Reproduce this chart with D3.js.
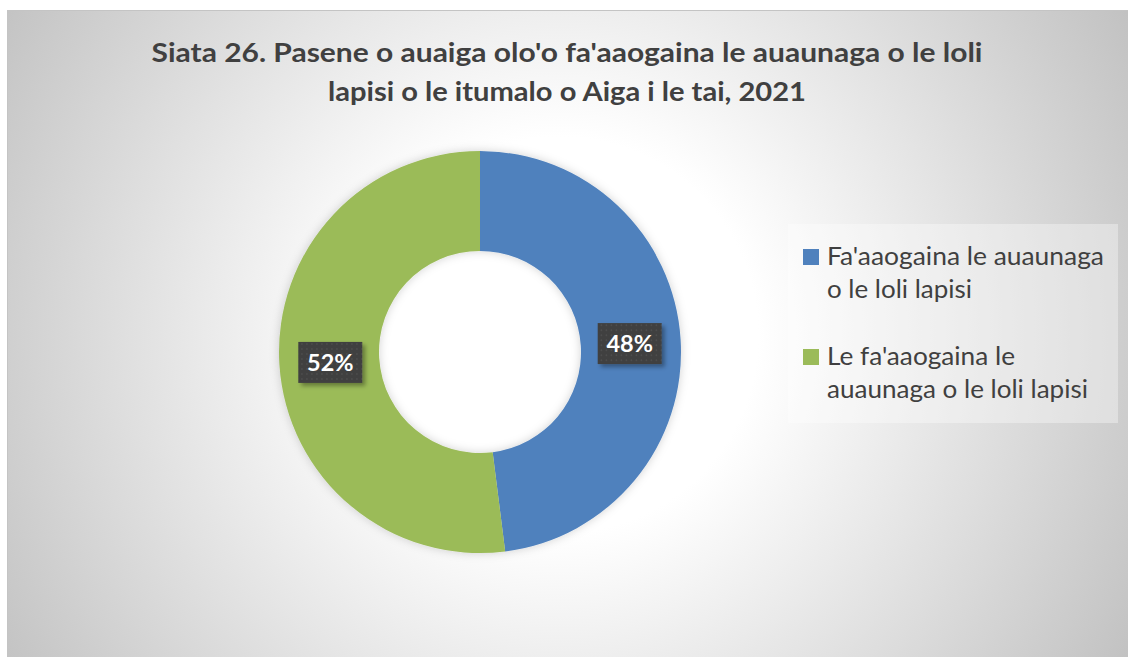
<!DOCTYPE html>
<html>
<head>
<meta charset="utf-8">
<script src="https://cdn.jsdelivr.net/npm/d3@7"></script>
<style>
  html, body { margin: 0; padding: 0; background: #ffffff; }
  svg { display: block; }
</style>
</head>
<body>
<svg id="chart" width="1128" height="657"></svg>
<script>
// ---- data ----
const categories = ["Fa'aaogaina le auaunaga o le loli lapisi", "Le fa'aaogaina le auaunaga o le loli lapisi"];
const values = [48, 52];
const colors = ["#4f81bd", "#9bbb59"];
const legendLines = [["Fa'aaogaina le auaunaga", "o le loli lapisi"], ["Le fa'aaogaina le", "auaunaga o le loli lapisi"]];
const titleLines = ["Siata 26. Pasene o auaiga olo'o fa'aaogaina le auaunaga o le loli", "lapisi o le itumalo o Aiga i le tai, 2021"];

const W = 1128, H = 657;
const svg = d3.select("#chart");
const defs = svg.append("defs");

// background gradient
const rg = defs.append("radialGradient").attr("id", "bg")
  .attr("gradientUnits", "userSpaceOnUse")
  .attr("cx", 560).attr("cy", 335).attr("r", 660);
rg.append("stop").attr("offset", "0").attr("stop-color", "#ffffff");
rg.append("stop").attr("offset", "0.3").attr("stop-color", "#ffffff");
rg.append("stop").attr("offset", "1").attr("stop-color", "#c1c1c1");

// label dot pattern
const pat = defs.append("pattern").attr("id", "dots").attr("patternUnits", "userSpaceOnUse")
  .attr("width", 5).attr("height", 5);
pat.append("rect").attr("width", 5).attr("height", 5).attr("fill", "#404040");
pat.append("rect").attr("x", 1).attr("y", 1).attr("width", 1.2).attr("height", 1.2).attr("fill", "#595959");

// shadows
const sh = defs.append("filter").attr("id", "lblshadow").attr("x", "-30%").attr("y", "-30%").attr("width", "160%").attr("height", "160%");
sh.append("feDropShadow").attr("dx", 3).attr("dy", 3).attr("stdDeviation", 2).attr("flood-color", "#000").attr("flood-opacity", 0.35);
const dsh = defs.append("filter").attr("id", "donutshadow").attr("x", "-20%").attr("y", "-20%").attr("width", "140%").attr("height", "140%");
dsh.append("feDropShadow").attr("dx", 0).attr("dy", 0).attr("stdDeviation", 5).attr("flood-color", "#000").attr("flood-opacity", 0.18);

// chart area
svg.append("rect").attr("x", 7.5).attr("y", 10.5).attr("width", W + 10).attr("height", H + 10)
  .attr("fill", "url(#bg)").attr("stroke", "#c4c4c4").attr("stroke-width", 1);

// title
const titleFont = "Lato, 'Open Sans', sans-serif";
const titleY = [62, 101];
const titleW = [831, 478];
svg.append("g").selectAll("text").data(titleLines).join("text")
  .attr("x", 567).attr("y", (d, i) => titleY[i])
  .attr("text-anchor", "middle")
  .attr("font-family", titleFont).attr("font-weight", "bold").attr("font-size", 27.5)
  .attr("fill", "#404040")
  .attr("textLength", (d, i) => titleW[i]).attr("lengthAdjust", "spacingAndGlyphs")
  .text(d => d);

// donut
const cx = 480, cy = 352;
const pie = d3.pie().sort(null).value(d => d).startAngle(0).endAngle(2 * Math.PI);
const arcs = pie(values);
const arc = d3.arc().innerRadius(101).outerRadius(201);
const labelArc = d3.arc().innerRadius(150).outerRadius(150);
const g = svg.append("g").attr("transform", `translate(${cx},${cy})`);
g.append("g").attr("filter", "url(#donutshadow)")
  .selectAll("path").data(arcs).join("path")
  .attr("d", arc).attr("fill", (d, i) => colors[i]);

// data labels
const lbl = g.selectAll("g.lbl").data(arcs).join("g").attr("class", "lbl")
  .attr("transform", d => { const c = labelArc.centroid(d); return `translate(${c[0]},${c[1] + 1})`; });
lbl.append("rect").attr("x", -32).attr("y", -20.5).attr("width", 64).attr("height", 41)
  .attr("fill", "url(#dots)").attr("filter", "url(#lblshadow)");
lbl.append("text").attr("text-anchor", "middle").attr("dy", "0.36em")
  .attr("font-family", titleFont).attr("font-weight", "bold").attr("font-size", 23.5)
  .attr("fill", "#ffffff")
  .text(d => d.data + "%");

// legend
svg.append("rect").attr("x", 788).attr("y", 224).attr("width", 330).attr("height", 199)
  .attr("fill", "#ffffff").attr("fill-opacity", 0.35);
const legTop = [249, 349];
const legW = [[277, 145], [188, 261]];
const leg = svg.append("g").selectAll("g").data(categories).join("g");
leg.append("rect").attr("x", 803).attr("y", (d, i) => legTop[i]).attr("width", 16).attr("height", 16)
  .attr("fill", (d, i) => colors[i]);
leg.each(function(d, i) {
  d3.select(this).selectAll("text").data(legendLines[i]).join("text")
    .attr("x", 827).attr("y", (t, j) => legTop[i] + 16 + j * 33)
    .attr("font-family", titleFont).attr("font-size", 24.5).attr("fill", "#404040")
    .attr("textLength", (t, j) => legW[i][j]).attr("lengthAdjust", "spacingAndGlyphs")
    .text(t => t);
});
</script>
</body>
</html>
